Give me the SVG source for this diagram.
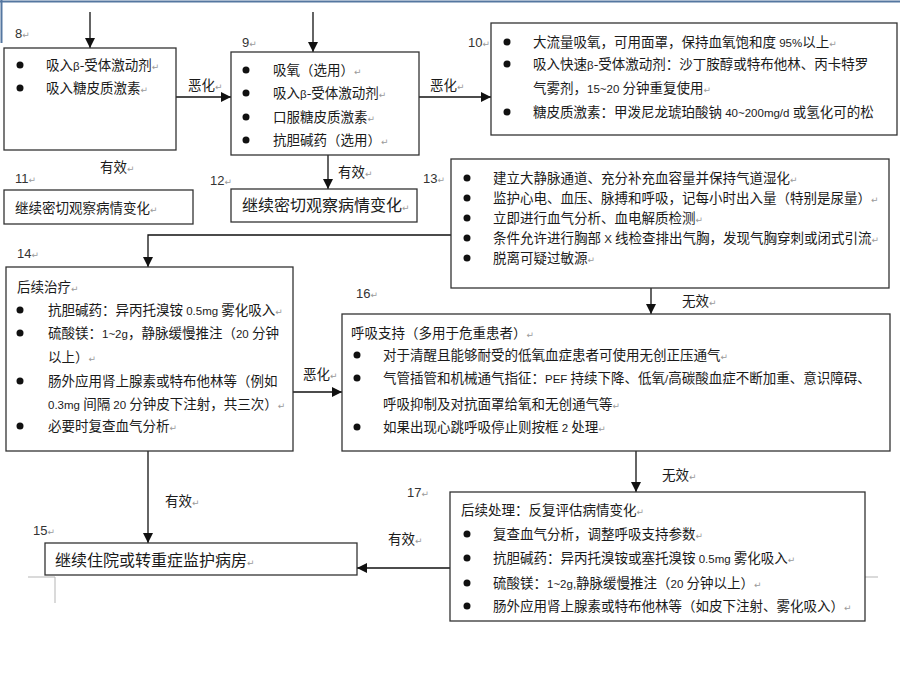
<svg xmlns="http://www.w3.org/2000/svg" width="900" height="675" viewBox="0 0 900 675">
<defs>
<marker id="ah" markerUnits="userSpaceOnUse" markerWidth="10" markerHeight="10" refX="10" refY="5" orient="auto">
<path d="M0,0 L10,5 L0,10 z" fill="#111"/>
</marker>
<style>
.box{fill:#fff;stroke:#333;stroke-width:1.3}
.t{font-family:"Noto Sans CJK SC","Noto Sans",sans-serif;font-size:13.5px;fill:#1a1a1a}
.big{font-size:16px}
.lat{font-family:"Liberation Sans",Arial,sans-serif;font-size:11.5px}
.n{font-family:"Liberation Sans",Arial,sans-serif;font-size:13px;fill:#333}
.pm{font-family:"DejaVu Sans",sans-serif;font-size:9px;fill:#9a9a9a}
.b{fill:#111}
.conn line,.conn polyline{stroke:#111;stroke-width:1.3;fill:none;marker-end:url(#ah)}
.mark{stroke:#b5b5b5;stroke-width:1;fill:none}
</style>
</defs>
<rect width="900" height="675" fill="#fff"/>
<line x1="0" y1="1.5" x2="900" y2="1.5" stroke="#5577a0" stroke-width="2"/>
<line x1="1.5" y1="0" x2="1.5" y2="43" stroke="#5577a0" stroke-width="2"/>
<path class="mark" d="M28,577 H55 V603 M865,577 H878"/>

<g id="connectors" class="conn">
<line x1="90" y1="12" x2="90" y2="48"/>
<line x1="313" y1="12" x2="313" y2="52"/>
<line x1="176" y1="97" x2="231" y2="97"/>
<line x1="419" y1="97" x2="491" y2="97"/>
<line x1="328" y1="155" x2="328" y2="189"/>
<polyline points="451,235 148,235 148,267"/>
<line x1="651" y1="288" x2="651" y2="314"/>
<line x1="293" y1="392" x2="342" y2="392"/>
<line x1="148" y1="451" x2="148" y2="543"/>
<line x1="636" y1="451" x2="636" y2="492"/>
<line x1="450" y1="568" x2="357" y2="568"/>
</g>

<g id="edge-labels">
<text class="t" x="188" y="90">恶化<tspan class="pm">↵</tspan></text>
<text class="t" x="430" y="90">恶化<tspan class="pm">↵</tspan></text>
<text class="t" x="100" y="172">有效<tspan class="pm">↵</tspan></text>
<text class="t" x="338" y="177">有效<tspan class="pm">↵</tspan></text>
<text class="t" x="682" y="306">无效<tspan class="pm">↵</tspan></text>
<text class="t" x="303" y="379">恶化<tspan class="pm">↵</tspan></text>
<text class="t" x="165" y="506">有效<tspan class="pm">↵</tspan></text>
<text class="t" x="662" y="480">无效<tspan class="pm">↵</tspan></text>
<text class="t" x="388" y="544">有效<tspan class="pm">↵</tspan></text>
</g>

<g id="node8">
<text class="n" x="15" y="38">8<tspan class="pm">↵</tspan></text>
<rect class="box" x="4" y="48" width="172" height="102"/>
<circle class="b" cx="20" cy="65" r="3.5"/>
<circle class="b" cx="20" cy="88" r="3.5"/>
<text class="t" x="46" y="70">吸入<tspan class="lat">β</tspan>-受体激动剂<tspan class="pm">↵</tspan></text>
<text class="t" x="46" y="93">吸入糖皮质激素<tspan class="pm">↵</tspan></text>
</g>

<g id="node9">
<text class="n" x="242" y="47">9<tspan class="pm">↵</tspan></text>
<rect class="box" x="231" y="52" width="188" height="103"/>
<circle class="b" cx="246" cy="70" r="3.5"/>
<circle class="b" cx="246" cy="93" r="3.5"/>
<circle class="b" cx="246" cy="117" r="3.5"/>
<circle class="b" cx="246" cy="140" r="3.5"/>
<text class="t" x="273" y="75">吸氧（选用）<tspan class="pm">↵</tspan></text>
<text class="t" x="273" y="98">吸入<tspan class="lat">β</tspan>-受体激动剂<tspan class="pm">↵</tspan></text>
<text class="t" x="273" y="122">口服糖皮质激素<tspan class="pm">↵</tspan></text>
<text class="t" x="273" y="145">抗胆碱药（选用）<tspan class="pm">↵</tspan></text>
</g>

<g id="node10">
<text class="n" x="468" y="47">10<tspan class="pm">↵</tspan></text>
<rect class="box" x="491" y="23" width="406" height="112"/>
<circle class="b" cx="507" cy="42" r="3.5"/>
<circle class="b" cx="507" cy="64" r="3.5"/>
<circle class="b" cx="507" cy="112" r="3.5"/>
<text class="t" x="533" y="47">大流量吸氧，可用面罩，保持血氧饱和度<tspan class="lat"> 95%</tspan>以上<tspan class="pm">↵</tspan></text>
<text class="t" x="533" y="69">吸入快速<tspan class="lat">β</tspan>-受体激动剂：沙丁胺醇或特布他林、丙卡特罗</text>
<text class="t" x="533" y="93">气雾剂，<tspan class="lat">15~20 </tspan>分钟重复使用<tspan class="pm">↵</tspan></text>
<text class="t" x="533" y="117">糖皮质激素：甲泼尼龙琥珀酸钠<tspan class="lat"> 40~200mg/d </tspan>或氢化可的松</text>
</g>

<g id="node11">
<text class="n" x="15" y="183">11<tspan class="pm">↵</tspan></text>
<rect class="box" x="4" y="190" width="189" height="34"/>
<text class="t" x="15" y="213">继续密切观察病情变化<tspan class="pm">↵</tspan></text>
</g>

<g id="node12">
<text class="n" x="210" y="185">12<tspan class="pm">↵</tspan></text>
<rect class="box" x="231" y="189" width="186" height="33"/>
<text class="t big" x="242" y="211">继续密切观察病情变化<tspan class="pm">↵</tspan></text>
</g>

<g id="node13">
<text class="n" x="423" y="183">13<tspan class="pm">↵</tspan></text>
<rect class="box" x="451" y="159" width="438" height="129"/>
<circle class="b" cx="467" cy="178" r="3.5"/>
<circle class="b" cx="467" cy="198" r="3.5"/>
<circle class="b" cx="467" cy="218" r="3.5"/>
<circle class="b" cx="467" cy="238" r="3.5"/>
<circle class="b" cx="467" cy="258" r="3.5"/>
<text class="t" x="493" y="183">建立大静脉通道、充分补充血容量并保持气道湿化<tspan class="pm">↵</tspan></text>
<text class="t" x="493" y="203">监护心电、血压、脉搏和呼吸，记每小时出入量（特别是尿量）<tspan class="pm">↵</tspan></text>
<text class="t" x="493" y="223">立即进行血气分析、血电解质检测<tspan class="pm">↵</tspan></text>
<text class="t" x="493" y="243">条件允许进行胸部<tspan class="lat"> X </tspan>线检查排出气胸，发现气胸穿刺或闭式引流<tspan class="pm">↵</tspan></text>
<text class="t" x="493" y="263">脱离可疑过敏源<tspan class="pm">↵</tspan></text>
</g>

<g id="node14">
<text class="n" x="17" y="258">14<tspan class="pm">↵</tspan></text>
<rect class="box" x="6" y="267" width="287" height="184"/>
<text class="t" x="17" y="292">后续治疗<tspan class="pm">↵</tspan></text>
<circle class="b" cx="20" cy="310" r="3.5"/>
<circle class="b" cx="20" cy="333" r="3.5"/>
<circle class="b" cx="20" cy="381" r="3.5"/>
<circle class="b" cx="20" cy="426" r="3.5"/>
<text class="t" x="48" y="315">抗胆碱药：异丙托溴铵<tspan class="lat"> 0.5mg </tspan>雾化吸入<tspan class="pm">↵</tspan></text>
<text class="t" x="48" y="338">硫酸镁：<tspan class="lat">1~2g</tspan>，静脉缓慢推注（<tspan class="lat">20 </tspan>分钟</text>
<text class="t" x="48" y="362">以上）<tspan class="pm">↵</tspan></text>
<text class="t" x="48" y="386">肠外应用肾上腺素或特布他林等（例如</text>
<text class="t" x="48" y="409"><tspan class="lat">0.3mg </tspan>间隔<tspan class="lat"> 20 </tspan>分钟皮下注射，共三次）<tspan class="pm">↵</tspan></text>
<text class="t" x="48" y="431">必要时复查血气分析<tspan class="pm">↵</tspan></text>
</g>

<g id="node15">
<text class="n" x="33" y="535">15<tspan class="pm">↵</tspan></text>
<rect class="box" x="45" y="543" width="312" height="32"/>
<text class="t big" x="55" y="566">继续住院或转重症监护病房<tspan class="pm">↵</tspan></text>
</g>

<g id="node16">
<text class="n" x="356" y="298">16<tspan class="pm">↵</tspan></text>
<rect class="box" x="342" y="314" width="548" height="137"/>
<text class="t" x="351" y="338">呼吸支持（多用于危重患者）<tspan class="pm">↵</tspan></text>
<circle class="b" cx="357" cy="355" r="3.5"/>
<circle class="b" cx="357" cy="378" r="3.5"/>
<circle class="b" cx="357" cy="427" r="3.5"/>
<text class="t" x="383" y="360">对于清醒且能够耐受的低氧血症患者可使用无创正压通气<tspan class="pm">↵</tspan></text>
<text class="t" x="383" y="383">气管插管和机械通气指征：<tspan class="lat">PEF </tspan>持续下降、低氧<tspan class="lat">/</tspan>高碳酸血症不断加重、意识障碍、</text>
<text class="t" x="383" y="409">呼吸抑制及对抗面罩给氧和无创通气等<tspan class="pm">↵</tspan></text>
<text class="t" x="383" y="432">如果出现心跳呼吸停止则按框<tspan class="lat"> 2 </tspan>处理<tspan class="pm">↵</tspan></text>
</g>

<g id="node17">
<text class="n" x="407" y="497">17<tspan class="pm">↵</tspan></text>
<rect class="box" x="450" y="492" width="415" height="129"/>
<text class="t" x="461" y="515">后续处理：反复评估病情变化<tspan class="pm">↵</tspan></text>
<circle class="b" cx="467" cy="534" r="3.5"/>
<circle class="b" cx="467" cy="558" r="3.5"/>
<circle class="b" cx="467" cy="583" r="3.5"/>
<circle class="b" cx="467" cy="606" r="3.5"/>
<text class="t" x="493" y="539">复查血气分析，调整呼吸支持参数<tspan class="pm">↵</tspan></text>
<text class="t" x="493" y="563">抗胆碱药：异丙托溴铵或塞托溴铵<tspan class="lat"> 0.5mg </tspan>雾化吸入<tspan class="pm">↵</tspan></text>
<text class="t" x="493" y="588">硫酸镁：<tspan class="lat">1~2g,</tspan>静脉缓慢推注（<tspan class="lat">20 </tspan>分钟以上）<tspan class="pm">↵</tspan></text>
<text class="t" x="493" y="611">肠外应用肾上腺素或特布他林等（如皮下注射、雾化吸入）<tspan class="pm">↵</tspan></text>
</g>
</svg>
